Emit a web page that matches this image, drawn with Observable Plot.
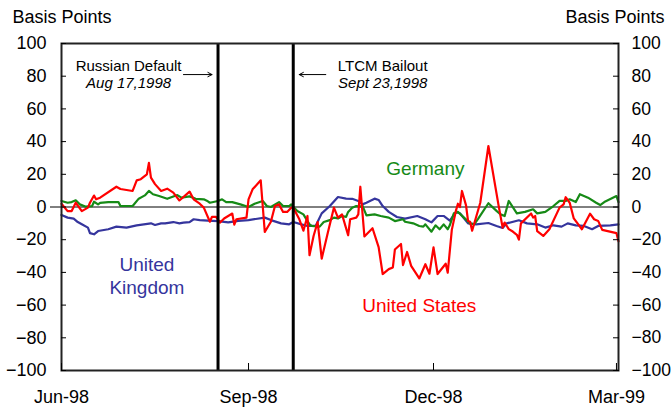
<!DOCTYPE html>
<html>
<head>
<meta charset="utf-8">
<script src="https://cdn.jsdelivr.net/npm/d3@7"></script>
<script src="https://cdn.jsdelivr.net/npm/@observablehq/plot@0.6"></script>
<style>
  html, body { margin: 0; padding: 0; background: #fff; }
</style>
</head>
<body>
<div id="chart"></div>
<script>
// ---- data (basis points) ----
const unitedStates = [
  ["1998-06-01", 2], ["1998-06-04", -2.5], ["1998-06-06", -2.5], ["1998-06-08", 2.6], ["1998-06-11", -2.5],
  ["1998-06-14", -0.4], ["1998-06-15", 2.6], ["1998-06-17", 7], ["1998-06-18", 4.7], ["1998-06-20", 5.7],
  ["1998-06-28", 12.4], ["1998-06-30", 11], ["1998-07-06", 9.8], ["1998-07-08", 16.3], ["1998-07-10", 17],
  ["1998-07-13", 20], ["1998-07-14", 27], ["1998-07-15", 18], ["1998-07-17", 14], ["1998-07-20", 9.8],
  ["1998-07-23", 11.2], ["1998-07-26", 8.8], ["1998-07-29", 4], ["1998-08-03", 9.4], ["1998-08-05", 4.7],
  ["1998-08-08", 2], ["1998-08-10", -0.4], ["1998-08-13", -9], ["1998-08-14", -6], ["1998-08-16", -6],
  ["1998-08-18", -9.5], ["1998-08-20", -7], ["1998-08-24", -4], ["1998-08-25", -10.8], ["1998-08-26", -7.5],
  ["1998-08-31", -6.5], ["1998-09-01", 4.7], ["1998-09-03", 10.8], ["1998-09-07", 16.3], ["1998-09-09", -15.3],
  ["1998-09-12", -9], ["1998-09-14", 0.6], ["1998-09-16", 1.6], ["1998-09-18", -3], ["1998-09-20", -3],
  ["1998-09-22", -0.4], ["1998-09-23", -0.4], ["1998-09-26", -7.5], ["1998-09-28", -14.5], ["1998-09-30", -5.5],
  ["1998-10-01", -29.5], ["1998-10-03", -17.7], ["1998-10-05", -9.2], ["1998-10-07", -31.6], ["1998-10-10", -15.7],
  ["1998-10-13", -0.4], ["1998-10-15", -6.5], ["1998-10-17", -4.5], ["1998-10-20", -17.3], ["1998-10-21", -7.5],
  ["1998-10-24", -6.5], ["1998-10-25", -4.5], ["1998-10-26", 12.4], ["1998-10-28", -18], ["1998-11-01", -13],
  ["1998-11-04", -24.5], ["1998-11-06", -41], ["1998-11-09", -38], ["1998-11-11", -37], ["1998-11-12", -26],
  ["1998-11-15", -22.6], ["1998-11-16", -35.5], ["1998-11-18", -27.5], ["1998-11-20", -36], ["1998-11-24", -43.7],
  ["1998-11-27", -35], ["1998-11-29", -40.8], ["1998-12-01", -24.7], ["1998-12-03", -41], ["1998-12-07", -34.7],
  ["1998-12-08", -40.2], ["1998-12-10", -14], ["1998-12-12", -2.4], ["1998-12-13", 2], ["1998-12-14", 0],
  ["1998-12-15", 9.8], ["1998-12-17", 1], ["1998-12-18", -8.6], ["1998-12-19", -9], ["1998-12-20", -14.5],
  ["1998-12-24", 2.6], ["1998-12-28", 37.3], ["1999-01-02", 1], ["1999-01-04", -12.6], ["1999-01-05", -9.5],
  ["1999-01-07", -13.5], ["1999-01-09", -15], ["1999-01-11", -17], ["1999-01-12", -20], ["1999-01-13", -10],
  ["1999-01-18", -4], ["1999-01-19", -6.5], ["1999-01-20", -5.5], ["1999-01-21", -14.7], ["1999-01-24", -17.7],
  ["1999-01-27", -13.6], ["1999-02-01", -0.4], ["1999-02-03", 1.6], ["1999-02-04", 6], ["1999-02-06", 2.6],
  ["1999-02-08", -7], ["1999-02-12", -13.6], ["1999-02-16", -4.1], ["1999-02-18", -7.5], ["1999-02-20", -8.5],
  ["1999-02-22", -14], ["1999-03-01", -16], ["1999-03-02", -21]
];

const germany = [
  ["1998-06-01", 3.7], ["1998-06-04", 2.6], ["1998-06-06", 3], ["1998-06-08", 4.1], ["1998-06-10", 1.6],
  ["1998-06-13", 0.2], ["1998-06-16", 0.5], ["1998-06-17", 3.2], ["1998-06-19", 1.6], ["1998-06-20", 2.5],
  ["1998-06-24", 3], ["1998-06-29", 3], ["1998-06-30", 0.6], ["1998-07-06", 0.6], ["1998-07-09", 5.1],
  ["1998-07-12", 7.1], ["1998-07-14", 9.8], ["1998-07-16", 7.8], ["1998-07-19", 6.7], ["1998-07-23", 5],
  ["1998-07-28", 7.3], ["1998-07-30", 5.7], ["1998-08-03", 6.5], ["1998-08-06", 5], ["1998-08-10", 4.7],
  ["1998-08-12", 3.5], ["1998-08-13", 2.6], ["1998-08-17", 3.7], ["1998-08-19", 4.7], ["1998-08-21", 3],
  ["1998-08-24", 3], ["1998-08-28", 1.6], ["1998-09-01", 0], ["1998-09-04", 2], ["1998-09-08", 3.7],
  ["1998-09-10", 0.6], ["1998-09-12", 0], ["1998-09-16", 3], ["1998-09-18", 0.6], ["1998-09-21", 0.6],
  ["1998-09-22", 1.6], ["1998-09-23", 0.2], ["1998-09-25", -2.4], ["1998-09-28", -4.5], ["1998-10-01", -10.6],
  ["1998-10-02", -11.6], ["1998-10-06", -12], ["1998-10-08", -9.2], ["1998-10-11", -8], ["1998-10-13", -6.5],
  ["1998-10-15", -7], ["1998-10-17", -5.5], ["1998-10-19", -6], ["1998-10-20", -3], ["1998-10-22", -0.4],
  ["1998-10-24", 0.6], ["1998-10-26", 0.2], ["1998-10-27", 1], ["1998-10-29", -5.1], ["1998-11-02", -4.5],
  ["1998-11-05", -5.5], ["1998-11-09", -6.5], ["1998-11-12", -8.6], ["1998-11-16", -7.5], ["1998-11-17", -9],
  ["1998-11-21", -10], ["1998-11-24", -11.6], ["1998-11-26", -12], ["1998-11-27", -10.6], ["1998-11-30", -15.1],
  ["1998-12-02", -11.2], ["1998-12-04", -13.6], ["1998-12-06", -10.6], ["1998-12-08", -13.6], ["1998-12-09", -11.2],
  ["1998-12-11", -3.9], ["1998-12-13", -3], ["1998-12-16", -6.5], ["1998-12-19", -10], ["1998-12-21", -10.6],
  ["1998-12-23", -7.1], ["1998-12-28", 2.3], ["1999-01-01", -2.4], ["1999-01-03", -4.5], ["1999-01-05", -5.5],
  ["1999-01-07", 3.7], ["1999-01-11", -3.9], ["1999-01-15", -3], ["1999-01-19", -1.4], ["1999-01-21", -3.9],
  ["1999-01-25", -3], ["1999-01-29", 0.6], ["1999-02-01", 3.7], ["1999-02-04", 3.7], ["1999-02-06", 4.7],
  ["1999-02-09", 3], ["1999-02-11", 7.8], ["1999-02-15", 5.7], ["1999-02-19", 2.6], ["1999-02-21", 1.2],
  ["1999-02-23", 3], ["1999-03-01", 6.7], ["1999-03-02", 3]
];

const unitedKingdom = [
  ["1998-06-01", -4.9], ["1998-06-04", -6.5], ["1998-06-07", -7.1], ["1998-06-09", -9.2], ["1998-06-11", -10.6],
  ["1998-06-14", -12.6], ["1998-06-15", -16], ["1998-06-17", -16.7], ["1998-06-19", -14.7], ["1998-06-24", -13.6],
  ["1998-06-28", -12], ["1998-07-03", -12.6], ["1998-07-08", -11.2], ["1998-07-15", -10], ["1998-07-17", -11],
  ["1998-07-20", -10], ["1998-07-22", -10], ["1998-07-26", -9.2], ["1998-07-29", -10], ["1998-07-31", -9.6],
  ["1998-08-03", -9.2], ["1998-08-05", -7.5], ["1998-08-08", -8], ["1998-08-12", -8.3], ["1998-08-17", -8.6],
  ["1998-08-22", -9.4], ["1998-08-27", -8.5], ["1998-09-01", -8], ["1998-09-09", -6.5], ["1998-09-12", -8],
  ["1998-09-17", -10], ["1998-09-21", -10.6], ["1998-09-23", -9.2], ["1998-09-27", -10.6], ["1998-09-30", -11.6],
  ["1998-10-04", -11.6], ["1998-10-07", -3.9], ["1998-10-11", 0.6], ["1998-10-15", 6.1], ["1998-10-19", 5.1],
  ["1998-10-22", 5], ["1998-10-25", 3.7], ["1998-10-27", 1.6], ["1998-10-29", 2.6], ["1998-11-02", 5.1],
  ["1998-11-04", 4.3], ["1998-11-06", 0.6], ["1998-11-09", -3], ["1998-11-13", -6.1], ["1998-11-17", -7.1],
  ["1998-11-23", -5.5], ["1998-11-27", -7.5], ["1998-11-30", -9.4], ["1998-12-03", -5.5], ["1998-12-06", -5.5],
  ["1998-12-09", -8.3], ["1998-12-12", -3.2], ["1998-12-14", -3.8], ["1998-12-18", -10], ["1998-12-22", -10.6],
  ["1998-12-28", -9.8], ["1999-01-01", -11.6], ["1999-01-04", -12.8], ["1999-01-06", -10], ["1999-01-12", -8.1],
  ["1999-01-16", -10], ["1999-01-21", -10.6], ["1999-01-25", -12.6], ["1999-01-29", -11.2], ["1999-02-02", -12],
  ["1999-02-05", -10], ["1999-02-09", -11.2], ["1999-02-13", -11.6], ["1999-02-17", -13.6], ["1999-02-20", -11.6],
  ["1999-02-26", -11.2], ["1999-03-02", -10.6]
];

const xTickDates = ["1998-06-01", "1998-09-01", "1998-12-01", "1999-03-01"];
const yTickValues = [-100, -80, -60, -40, -20, 0, 20, 40, 60, 80, 100];
const xDomain = ["1998-06-01", "1999-03-02"];
const yDomain = [-100, 100];

const eventDates = ["1998-08-17", "1998-09-23"];
const eventNames = ["Russian Default", "LTCM Bailout"];
const eventWhen = ["Aug 17,1998", "Sept 23,1998"];

const seriesNames = ["Germany", "United\nKingdom", "United States"];
const axisTitle = "Basis Points";

// ---- annotation placement (in data units) ----
const eventTextAt = ["1998-07-04", "1998-11-06"];
const eventArrowFrom = ["1998-07-31", "1998-10-09"];
const seriesLabelAt = ["1998-11-27", "1998-07-13", "1998-11-24"];
const seriesLabelLevel = [24, -41.5, -59.6];

// ---- build ----
const parse = d3.utcParse("%Y-%m-%d");
const colors = {Germany: "#168a16", UK: "#35359d", US: "#ff0000"};
const toRows = (arr) => arr.map(([d, v]) => ({date: parse(d), value: v}));
const usRows = toRows(unitedStates);
const deRows = toRows(germany);
const ukRows = toRows(unitedKingdom);

const events = eventDates.map((d, i) => ({
  date: parse(d), name: eventNames[i], when: eventWhen[i],
  textAt: parse(eventTextAt[i]), from: parse(eventArrowFrom[i])
}));
const labelColors = [colors.Germany, colors.UK, colors.US];
const labels = seriesNames.map((n, i) => ({
  name: n, at: parse(seriesLabelAt[i]), level: seriesLabelLevel[i], color: labelColors[i]
}));

const font = "'Liberation Sans', Arial, Helvetica, sans-serif";

const chart = Plot.plot({
  width: 672,
  height: 413,
  marginLeft: 61,
  marginRight: 54,
  marginTop: 43,
  marginBottom: 43,
  style: {fontFamily: font, fontSize: "18px", color: "#000", background: "#fff", overflow: "visible"},
  x: {type: "utc", domain: xDomain.map(parse)},
  y: {domain: yDomain},
  marks: [
    Plot.ruleY([0], {stroke: "#000", strokeWidth: 1, insetLeft: -11}),
    Plot.line(ukRows, {x: "date", y: "value", stroke: colors.UK, strokeWidth: 2.2}),
    Plot.line(deRows, {x: "date", y: "value", stroke: colors.Germany, strokeWidth: 2.2}),
    Plot.line(usRows, {x: "date", y: "value", stroke: colors.US, strokeWidth: 2.2}),
    Plot.ruleX(events, {x: "date", stroke: "#000", strokeWidth: 3}),
    Plot.frame({stroke: "#222", strokeWidth: 2}),
    Plot.axisX(xTickDates.map(parse), {
      tickFormat: d3.utcFormat("%b-%y"), tickSize: -7, tickPadding: 27, label: null, fontSize: 18
    }),
    Plot.axisY(yTickValues, {anchor: "left", tickSize: -5, tickPadding: 20, label: null, fontSize: 18}),
    Plot.axisY(yTickValues, {anchor: "right", tickSize: -6, tickPadding: 19, label: null, fontSize: 17.5}),
    Plot.text(events, {x: "textAt", y: () => 86.4, text: "name", fontSize: 15, fill: "#000"}),
    Plot.text(events, {x: "textAt", y: () => 76, text: "when", fontSize: 15, fontStyle: "italic", fill: "#000"}),
    Plot.arrow(events, {
      x1: "from", x2: "date", y1: () => 81, y2: () => 81,
      insetEnd: 6, headLength: 7, headAngle: 55, strokeWidth: 1, stroke: "#000"
    }),
    Plot.text(labels, {x: "at", y: "level", text: "name", fill: "color", fontSize: 19, lineHeight: 1.2}),
    Plot.text([axisTitle], {frameAnchor: "top-left", textAnchor: "start", lineAnchor: "bottom", dx: -49, dy: -21, fontSize: 18}),
    Plot.text([axisTitle], {frameAnchor: "top-right", textAnchor: "end", lineAnchor: "bottom", dx: 46, dy: -21, fontSize: 18})
  ]
});
document.getElementById("chart").appendChild(chart);
</script>
</body>
</html>
